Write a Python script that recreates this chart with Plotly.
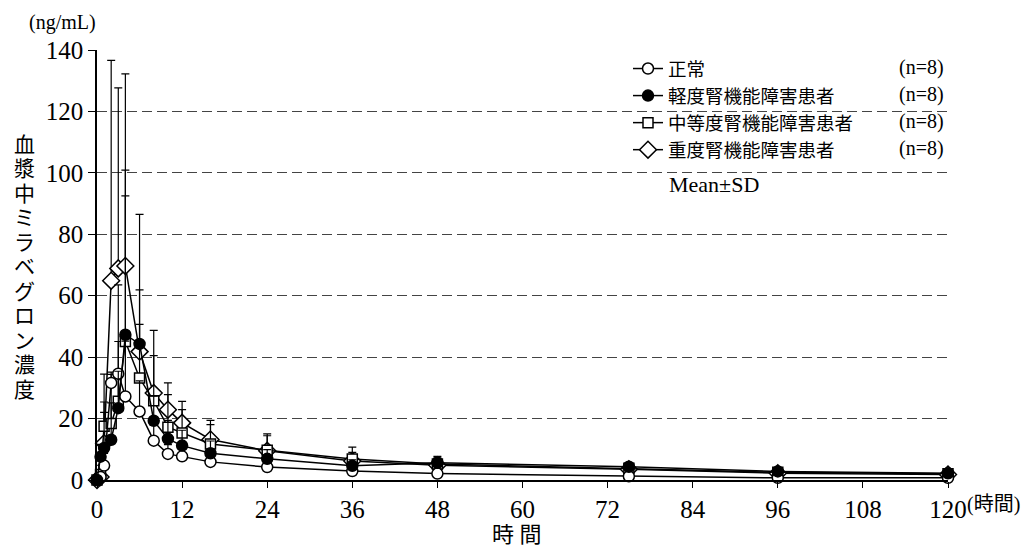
import plotly.graph_objects as go

# ---- data ----
times = [0, 0.5, 1, 2, 3, 4, 6, 8, 10, 12, 16, 24, 36, 48, 75, 96, 120]

normal = [0, 1.0, 4.7, 31.6, 34.6, 27.2, 22.3, 12.8, 8.5, 7.7, 5.9, 4.2, 2.9, 2.1, 1.2, 0.7, 0.7]
normal_sd = [0, 1, 4, 3.5, 28.9, 18, 10, 5, 3, 3, 2, 1.5, 1, 1, 0.8, 0.5, 0.4]

mild = [0, 7.6, 10.4, 13.1, 23.4, 47.3, 44.3, 19.3, 13.4, 11.2, 8.7, 6.9, 4.6, 5.6, 4.3, 2.8, 2.2]
mild_sd = [0, 4, 15, 12, 12, 53.6, 42.2, 8, 6, 5, 4, 3, 2, 2.1, 1.0, 0.8, 0.6]

moderate = [0, 1.8, 17.5, 18.4, 25.6, 45.1, 33.2, 25.8, 17.2, 15.3, 11.7, 9.7, 6.8, 5.2, 3.8, 2.5, 2.0]
moderate_sd = [0, 3, 17, 16, 19.5, 47.4, 17.5, 14.7, 10.6, 7.6, 6.3, 5.3, 3.9, 2, 1, 0.7, 0.5]

severe = [0, 1.0, 12, 64.9, 68.9, 69.7, 41.8, 28.3, 22.9, 18.6, 13.2, 9.5, 6.2, 4.8, 3.5, 2.2, 1.8]
severe_sd = [0, 1, 10, 71.7, 58.8, 62.5, 20.1, 20.4, 8.7, 7.0, 6.2, 4.9, 2.8, 2, 1, 0.8, 0.5]

series_names = ["正常", "軽度腎機能障害患者", "中等度腎機能障害患者", "重度腎機能障害患者"]
n_labels = ["(n=8)", "(n=8)", "(n=8)", "(n=8)"]
x_ticks = [0, 12, 24, 36, 48, 60, 72, 84, 96, 108, 120]
y_ticks = [0, 20, 40, 60, 80, 100, 120, 140]
y_title = "血漿中ミラベグロン濃度"

FONT = '"Liberation Serif", "DejaVu Serif", "Noto Sans CJK JP", serif'

OFF = 8  # page body margin
W, H = 1024, 543
L = 97 - OFF
T = 50 - OFF
R = W - (948 - OFF)
B = H - (480.5 - OFF)
PW = W - L - R
PH = H - T - B


def px2x(px):  # page pixel -> paper x
    return (px - OFF - L) / PW


def py2y(py):  # page pixel -> paper y
    return (H - B - (py - OFF)) / PH


fig = go.Figure()

specs = [
    (severe, severe_sd, series_names[3], "diamond", "white", 13, 4),
    (moderate, moderate_sd, series_names[2], "square", "white", 10, 3),
    (normal, normal_sd, series_names[0], "circle", "white", 11, 1),
    (mild, mild_sd, series_names[1], "circle", "black", 11, 2),
]

for vals, sd, name, sym, fill, size, rank in specs:
    fig.add_trace(go.Scatter(
        x=times, y=vals, name=name, mode="lines+markers",
        line=dict(color="black", width=1.5),
        marker=dict(symbol=sym, size=size, color=fill,
                    line=dict(color="black", width=1.5)),
        error_y=dict(type="data", symmetric=False, array=sd,
                     arrayminus=[0] * len(sd), color="black",
                     thickness=1.2, width=4),
        cliponaxis=False, legendrank=rank,
    ))

fig.update_layout(
    width=W, height=H,
    margin=dict(l=L, r=R, t=T, b=B),
    paper_bgcolor="white", plot_bgcolor="white",
    font=dict(family=FONT, color="black"),
    showlegend=True,
    legend=dict(x=px2x(628), y=py2y(50), xanchor="left", yanchor="top",
                bgcolor="rgba(0,0,0,0)", font=dict(size=18.5, family=FONT, color="black"),
                itemwidth=30, tracegroupgap=0, traceorder="normal"),
    xaxis=dict(range=[0, 120], tickvals=x_ticks,
               ticktext=[str(v) for v in x_ticks],
               showgrid=False, zeroline=False,
               showline=True, linecolor="black", linewidth=1.5,
               ticks="outside", ticklen=6, tickcolor="black", tickwidth=1.2,
               tickfont=dict(size=25, family=FONT, color="black")),
    yaxis=dict(range=[0, 140], tickvals=y_ticks,
               showgrid=True, gridcolor="#444", griddash="10px,5px", gridwidth=1,
               zeroline=False,
               showline=True, linecolor="black", linewidth=1.5,
               ticks="outside", ticklen=7, tickcolor="black", tickwidth=1.2,
               tickfont=dict(size=25, family=FONT, color="black")),
)

# white box behind legend (hides gridlines)
fig.add_shape(type="rect", xref="paper", yref="paper",
              x0=px2x(624), x1=px2x(946), y0=py2y(205), y1=py2y(57),
              fillcolor="white", line=dict(width=0), layer="between")

ann = []
row_y = [68, 95, 122, 149]
for i, t in enumerate(n_labels):
    ann.append(dict(x=px2x(946), y=py2y(row_y[i]), xref="paper", yref="paper",
                    text=t, showarrow=False, xanchor="right", yanchor="middle",
                    font=dict(size=20, family=FONT, color="black")))
ann.append(dict(x=px2x(667), y=py2y(185), xref="paper", yref="paper",
                text="Mean±SD", showarrow=False, xanchor="left", yanchor="middle",
                font=dict(size=22, family=FONT, color="black")))
ann.append(dict(x=px2x(62), y=py2y(22), xref="paper", yref="paper",
                text="(ng/mL)", showarrow=False, xanchor="center", yanchor="middle",
                font=dict(size=20, family=FONT, color="black")))
for i, ch in enumerate(y_title):
    ann.append(dict(x=px2x(24), y=py2y(145 + 24.5 * i), xref="paper", yref="paper",
                    text=ch, showarrow=False, xanchor="center", yanchor="middle",
                    font=dict(size=21, family=FONT, color="black")))
ann.append(dict(x=px2x(517), y=py2y(535), xref="paper", yref="paper",
                text="時 間", showarrow=False, xanchor="center", yanchor="middle",
                font=dict(size=22, family=FONT, color="black")))
ann.append(dict(x=px2x(965), y=py2y(505), xref="paper", yref="paper",
                text="(時間)", showarrow=False, xanchor="left", yanchor="middle",
                font=dict(size=20, family=FONT, color="black")))
fig.update_layout(annotations=ann)

fig.write_html("out.html")
